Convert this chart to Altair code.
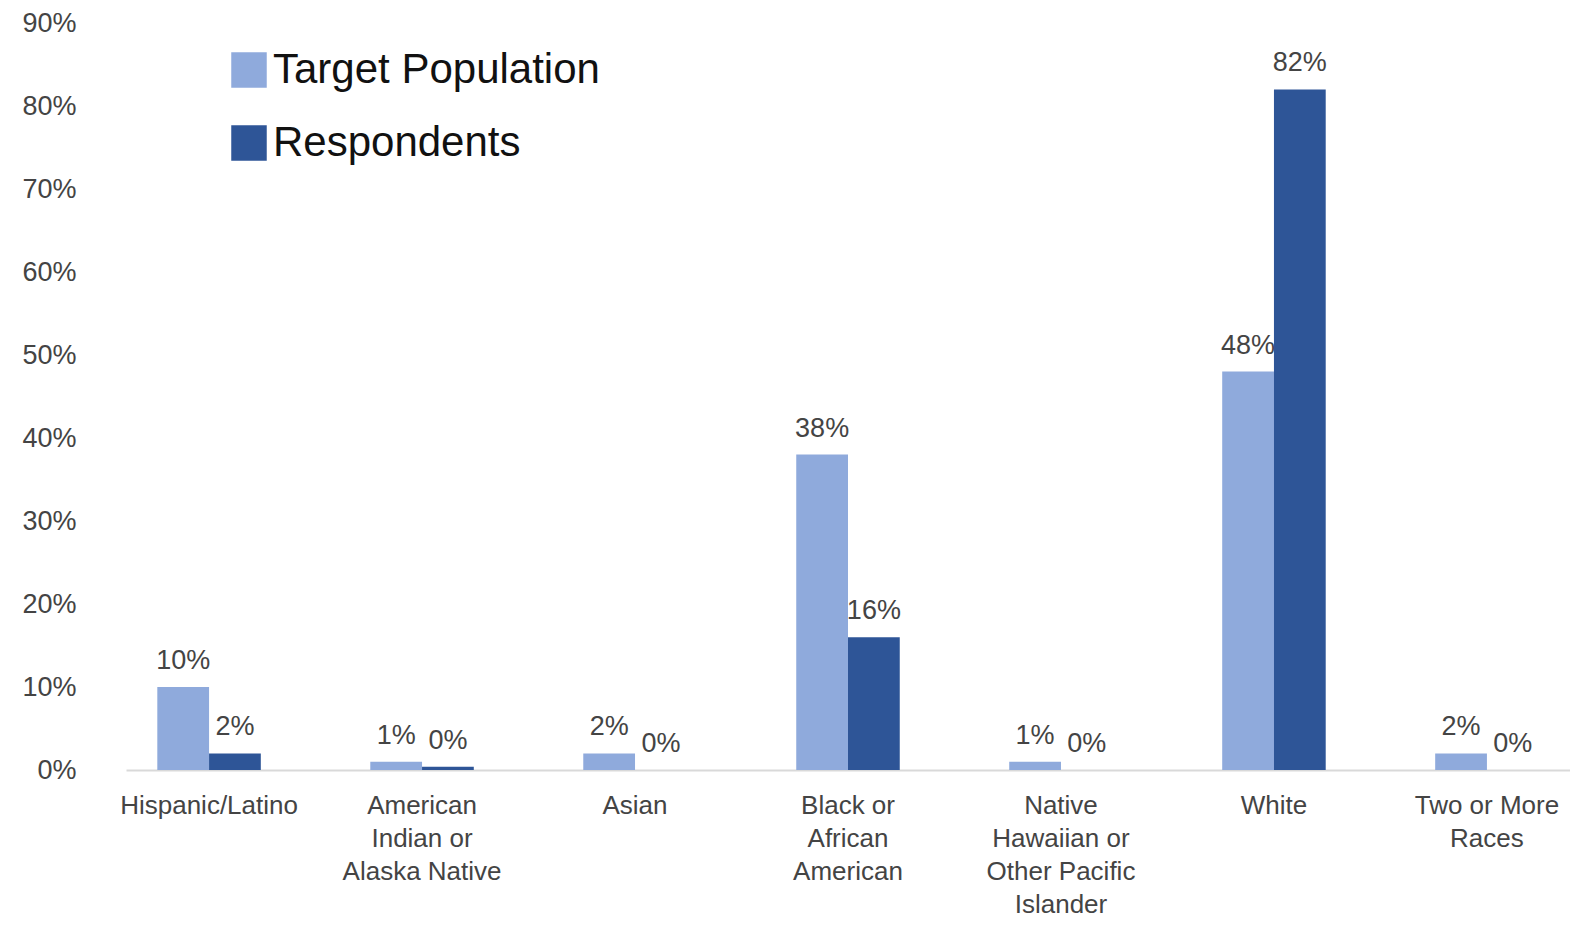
import altair as alt
import pandas as pd

categories = [
    "Hispanic/Latino",
    "American|Indian or|Alaska Native",
    "Asian",
    "Black or|African|American",
    "Native|Hawaiian or|Other Pacific|Islander",
    "White",
    "Two or More|Races",
]
series = ["Target Population", "Respondents"]
target_values = [0.10, 0.01, 0.02, 0.38, 0.01, 0.48, 0.02]
respondent_values = [0.02, 0.004, 0.0, 0.16, 0.0, 0.82, 0.0]
colors = ["#8FAADC", "#2E5597"]
y_ticks = [0, 0.1, 0.2, 0.3, 0.4, 0.5, 0.6, 0.7, 0.8, 0.9]

rows = []
for c, t, r in zip(categories, target_values, respondent_values):
    rows.append({"category": c, "series": series[0], "value": t})
    rows.append({"category": c, "series": series[1], "value": r})
df = pd.DataFrame(rows)

FONT = "Liberation Sans"

base = alt.Chart(df).encode(
    x=alt.X(
        "category:N",
        sort=categories,
        scale=alt.Scale(paddingInner=0.514, paddingOuter=0.147),
        axis=alt.Axis(
            title=None,
            ticks=False,
            domainColor="#d9d9d9",
            domainWidth=2,
            labelAngle=0,
            labelFontSize=26,
            labelLineHeight=33,
            labelPadding=22,
            labelLimit=0,
            labelExpr="split(datum.label, '|')",
            labelColor="#444444",
            labelFont=FONT,
        ),
    ),
    xOffset=alt.XOffset("series:N", sort=series, scale=alt.Scale(paddingInner=0, paddingOuter=0)),
    y=alt.Y(
        "value:Q",
        scale=alt.Scale(domain=[0, 0.9], nice=False),
        axis=alt.Axis(
            title=None,
            format=".0%",
            values=y_ticks,
            grid=False,
            domain=False,
            ticks=False,
            labelFontSize=27,
            labelColor="#444444",
            labelPadding=50,
            labelFont=FONT,
        ),
    ),
)

bars = base.mark_bar().encode(
    color=alt.Color(
        "series:N",
        sort=series,
        scale=alt.Scale(domain=series, range=colors),
        legend=alt.Legend(
            title=None,
            orient="none",
            legendX=102,
            legendY=26,
            direction="vertical",
            symbolType="square",
            symbolSize=1260,
            symbolStrokeWidth=0,
            symbolOpacity=1,
            labelFontSize=42,
            labelFont=FONT,
            labelColor="#111111",
            labelOffset=3,
            rowPadding=31,
            labelLimit=0,
        ),
    )
)

text = base.mark_text(
    baseline="bottom", dy=-12, fontSize=27, font=FONT, color="#444444"
).transform_calculate(label="format(datum.value, '.0%')").encode(text="label:N")

chart = (
    alt.layer(bars, text)
    .properties(
        width=1444,
        height=747,
        autosize=alt.AutoSizeParams(type="none"),
        padding={"left": 118, "top": 15, "right": 0, "bottom": 147},
    )
    .configure_view(stroke=None)
)

chart.save("out.html", embed_options={"renderer": "svg", "actions": False})
